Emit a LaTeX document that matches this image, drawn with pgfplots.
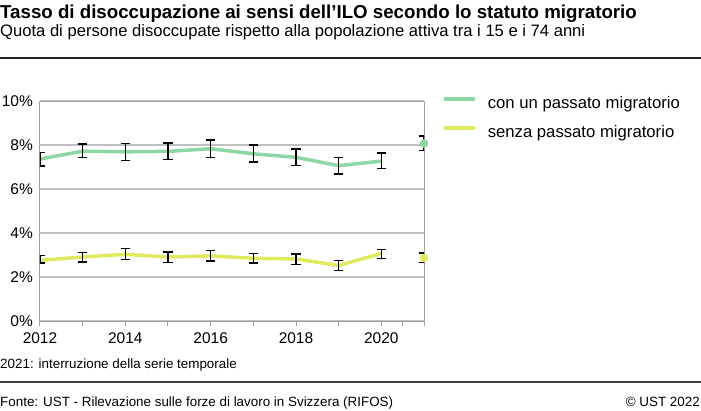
\documentclass[border=0pt]{standalone}
\usepackage{fontspec}
\setmainfont{Liberation Sans}
\usepackage{pgfplots}
\pgfplotsset{compat=1.18}

\definecolor{migr}{RGB}{141,215,166}
\definecolor{nomigr}{RGB}{224,234,94}
\definecolor{gridgray}{RGB}{192,192,192}
\definecolor{axgray}{RGB}{160,160,160}

\newcommand{\fs}[1]{\fontsize{#1}{#1}\selectfont}

\pgfplotsset{
    ebars/.style={
        error bars/.cd, y dir=both, y explicit,
        error bar style={black, line width=1.4pt},
        error mark options={black, rotate=90, mark size=4.8pt, line width=1.4pt},
    },
}

\begin{document}
\begin{tikzpicture}
\useasboundingbox (0,0) rectangle (701pt,-410pt);

% titles
\node[anchor=base west, inner sep=0pt] at (0,-18pt) {\fs{18.7}\bfseries Tasso di disoccupazione ai sensi dell’ILO secondo lo statuto migratorio};
\node[anchor=base west, inner sep=0pt] at (0,-36pt) {\fs{16.6}Quota di persone disoccupate rispetto alla popolazione attiva tra i 15 e i 74 anni};
\draw[line width=2pt, black!85] (0,-58pt) -- (701pt,-58pt);

\begin{axis}[
    at={(40pt,-321pt)}, anchor=south west,
    scale only axis, width=384pt, height=220pt,
    xmin=2012, xmax=2021, ymin=0, ymax=10,
    axis line style={axgray, line width=1pt},
    xtick={2012,2013,...,2021},
    xticklabels={2012,,2014,,2016,,2018,,2020,},
    extra x ticks={2020.5}, extra x tick labels={},
    ytick={0,2,...,10},
    yticklabels={0\%,2\%,4\%,6\%,8\%,10\%},
    tick align=outside, major tick length=5pt,
    xtick pos=bottom, ytick pos=left,
    xtick style={axgray, line width=1pt},
    ytick style={draw=none},
    ymajorgrids, grid style={gridgray, line width=1.2pt},
    tick label style={font=\fs{15.5}},
    xticklabel style={inner sep=0pt, anchor=base, yshift=-17pt},
    yticklabel style={inner sep=0pt, anchor=east, xshift=-2pt},
    legend style={at={(1.047,1.023)}, anchor=north west, draw=none, fill=none,
        inner sep=0pt, column sep=11pt, row sep=13pt, font=\fs{16.7},
        nodes={inner sep=0pt, text height=12pt, text depth=4pt}},
    legend cell align=left,
    legend image code/.code={\draw[#1, line width=3.5pt] (0pt,5pt) -- (31pt,5pt);},
]
\addplot[migr, line width=3.5pt, no marks, ebars] coordinates {
    (2012,7.36) += (0,0.30) -= (0,0.32)
    (2013,7.72) += (0,0.32) -= (0,0.28)
    (2014,7.69) += (0,0.38) -= (0,0.39)
    (2015,7.71) += (0,0.38) -= (0,0.38)
    (2016,7.83) += (0,0.39) -= (0,0.39)
    (2017,7.60) += (0,0.40) -= (0,0.38)
    (2018,7.44) += (0,0.37) -= (0,0.38)
    (2019,7.06) += (0,0.38) -= (0,0.38)
    (2020,7.27) += (0,0.36) -= (0,0.35)
};
\addlegendentry{con un passato migratorio}
\addplot[nomigr, line width=3.5pt, no marks, ebars] coordinates {
    (2012,2.76) += (0,0.22) -= (0,0.13)
    (2013,2.91) += (0,0.20) -= (0,0.22)
    (2014,3.03) += (0,0.26) -= (0,0.24)
    (2015,2.91) += (0,0.23) -= (0,0.24)
    (2016,2.96) += (0,0.24) -= (0,0.23)
    (2017,2.85) += (0,0.23) -= (0,0.22)
    (2018,2.82) += (0,0.23) -= (0,0.24)
    (2019,2.52) += (0,0.23) -= (0,0.23)
    (2020,3.07) += (0,0.19) -= (0,0.23)
};
\addlegendentry{senza passato migratorio}
\addplot[migr, only marks, mark=*, mark size=4pt, forget plot, ebars] coordinates {
    (2021,8.07) += (0,0.34) -= (0,0.33)
};
\addplot[nomigr, only marks, mark=*, mark size=4pt, forget plot, ebars] coordinates {
    (2021,2.87) += (0,0.23) -= (0,0.21)
};
\end{axis}

% notes and source
\node[anchor=base west, inner sep=0pt] at (0,-368pt) {\fs{13.4}2021: interruzione della serie temporale};
\draw[line width=1.5pt, black!75] (0,-382pt) -- (701pt,-382pt);
\node[anchor=base west, inner sep=0pt] at (0,-406pt) {\fs{13.4}Fonte: UST - Rilevazione sulle forze di lavoro in Svizzera (RIFOS)};
\node[anchor=base east, inner sep=0pt] at (700pt,-406pt) {\fs{13.4}© UST 2022};
\end{tikzpicture}
\end{document}
